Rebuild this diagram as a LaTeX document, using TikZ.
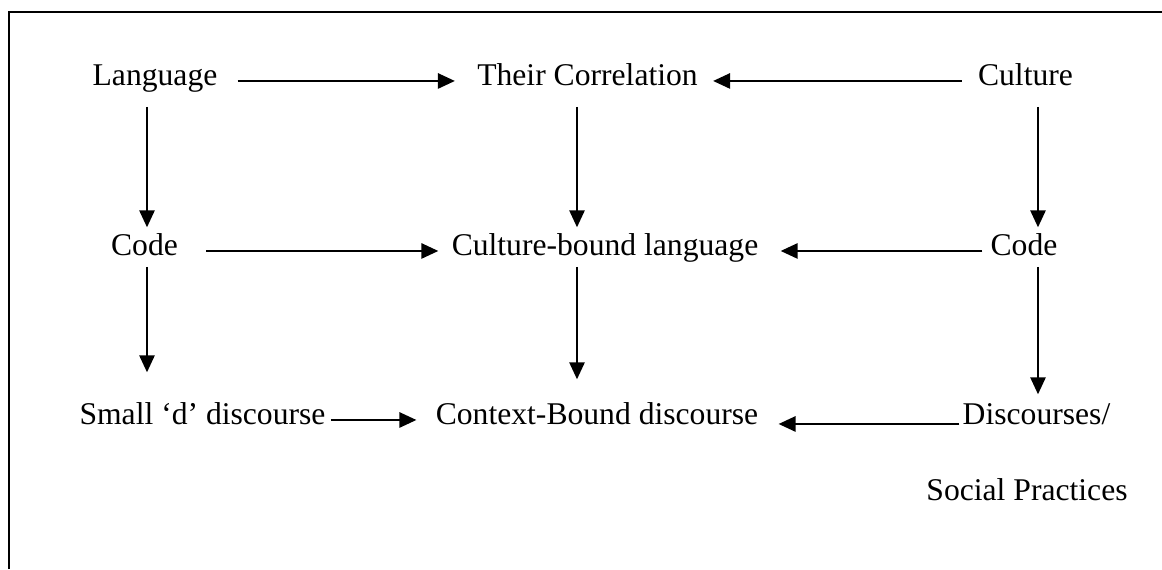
\documentclass[tikz,border=0pt]{standalone}
\usepackage{fontspec}
\setmainfont{Liberation Serif}
\usetikzlibrary{arrows.meta, positioning}

\begin{document}
\begin{tikzpicture}[x=0.02cm, y=-0.02cm,
    box/.style={inner sep=0pt, anchor=base, text height=0.7em, text depth=0.25em,
        font=\fontsize{18}{21}\selectfont},
    arr/.style={-{Triangle[length=0.34cm, width=0.3cm]}, line width=1.5pt}]
    \useasboundingbox (0,0) rectangle (1162,569);

    % frame
    \draw[line width=1.2pt] (9,569) -- (9,12) -- (1162,12);

    % top row
    \node[box] (lang) at (155,85) {Language};
    \node[box] (corr) at (587.5,85) {Their Correlation};
    \node[box] (cult) at (1025.5,85) {Culture};

    % middle row
    \node[box] (codeL) at (144.5,255) {Code};
    \node[box] (bound) at (605,255) {Culture-bound language};
    \node[box] (codeR) at (1024,255) {Code};

    % bottom row
    \node[box] (small) at (202.5,424) {Small `d' discourse};
    \node[box] (context) at (597,424) {Context-Bound discourse};
    \node[box] (disc) at (1036.5,424) {Discourses/};
    \node[box] (social) at (1027,500) {Social Practices};

    % horizontal arrows
    \draw[arr, shorten <=20*0.02cm, shorten >=22*0.02cm] (lang.mid east) -- (corr.mid west);
    \draw[arr, shorten <=16*0.02cm, shorten >=15*0.02cm] (cult.mid west) -- (corr.mid east);
    \draw[arr, shorten <=28*0.02cm, shorten >=13*0.02cm] (codeL.mid east) -- (bound.mid west);
    \draw[arr, shorten <=8*0.02cm, shorten >=22*0.02cm] (codeR.mid west) -- (bound.mid east);
    \draw[arr, shorten <=5*0.02cm, shorten >=19*0.02cm] (small.mid east) -- (context.mid west);
    \draw[arr, shorten <=3*0.02cm, shorten >=20*0.02cm] ([yshift=-0.08cm]disc.mid west) -- ([yshift=-0.08cm]context.mid east);

    % vertical arrows
    \draw[arr, shorten <=17*0.02cm, shorten >=15*0.02cm] ([xshift=0.05cm]lang.south -| codeL) -- ([xshift=0.05cm]codeL.north);
    \draw[arr, shorten <=7*0.02cm, shorten >=39*0.02cm] ([xshift=0.05cm]codeL.south) -- ([xshift=0.05cm]codeL.south |- small.north);
    \draw[arr, shorten <=17*0.02cm, shorten >=15*0.02cm] ([xshift=-0.21cm]corr.south) -- ([xshift=-0.21cm]corr.south |- bound.north);
    \draw[arr, shorten <=7*0.02cm, shorten >=32*0.02cm] ([xshift=-0.21cm]corr.south |- bound.south) -- ([xshift=-0.21cm]corr.south |- context.north);
    \draw[arr, shorten <=17*0.02cm, shorten >=15*0.02cm] ([xshift=0.25cm]cult.south) -- ([xshift=0.25cm]cult.south |- codeR.north);
    \draw[arr, shorten <=7*0.02cm, shorten >=17*0.02cm] ([xshift=0.25cm]cult.south |- codeR.south) -- ([xshift=0.25cm]cult.south |- disc.north);
\end{tikzpicture}
\end{document}
